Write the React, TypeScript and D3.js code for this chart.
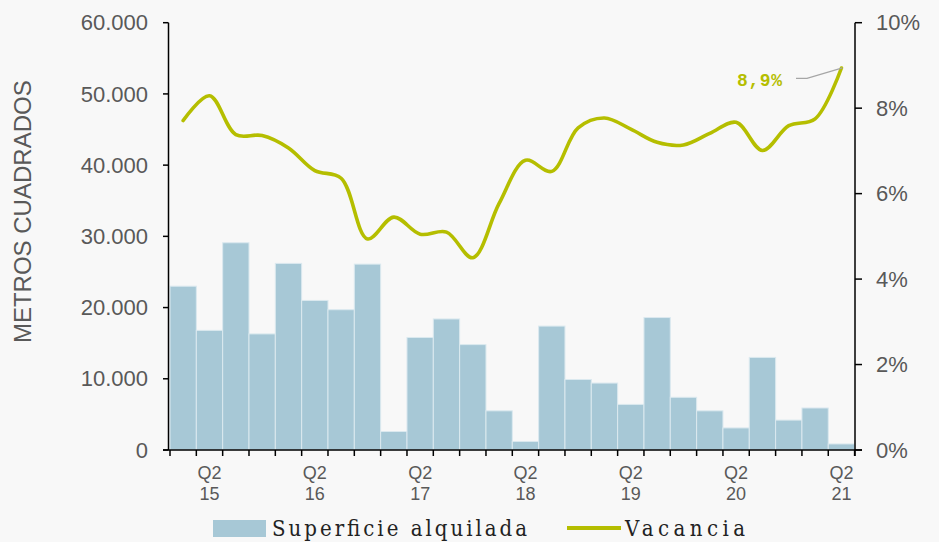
import React from "react";
import * as d3 from "d3";

const categories = [
  "Q1 15","Q2 15","Q3 15","Q4 15",
  "Q1 16","Q2 16","Q3 16","Q4 16",
  "Q1 17","Q2 17","Q3 17","Q4 17",
  "Q1 18","Q2 18","Q3 18","Q4 18",
  "Q1 19","Q2 19","Q3 19","Q4 19",
  "Q1 20","Q2 20","Q3 20","Q4 20",
  "Q1 21","Q2 21",
];
const superficie = [
  23000, 16800, 29100, 16300,
  26200, 21000, 19700, 26100,
  2600, 15800, 18400, 14800,
  5500, 1200, 17400, 9900,
  9400, 6400, 18600, 7400,
  5500, 3100, 13000, 4200,
  5900, 850,
];
const vacancia = [
  7.71, 8.29, 7.38, 7.36,
  7.07, 6.54, 6.36, 4.94,
  5.45, 5.05, 5.10, 4.50,
  5.77, 6.78, 6.52, 7.54,
  7.77, 7.51, 7.20, 7.14,
  7.41, 7.67, 7.01, 7.59,
  7.75, 8.94,
];
const leftTicks = [0, 10000, 20000, 30000, 40000, 50000, 60000];
const rightTicks = [0, 2, 4, 6, 8, 10];
const lastLabel = "8,9%";

const W = 939;
const H = 542;
const BG = "#f8f8f8";
const BAR = "#a7c8d6";
const LINE = "#b5be00";
const TXT = "#595959";
const SANS = "'Liberation Sans', Arial, sans-serif";
const MONO = "'Liberation Mono', 'DejaVu Sans Mono', monospace";
const LEG = "'DejaVu Serif Condensed', 'Liberation Serif', serif";

export default function App() {
  const x = d3.scaleBand<string>().domain(categories).range([170, 854.6]).paddingInner(0).paddingOuter(0);
  const yL = d3.scaleLinear().domain([0, 60000]).range([450, 22.7]);
  const yR = d3.scaleLinear().domain([0, 10]).range([450, 22.7]);
  const bw = x.bandwidth();
  const cx = (c: string) => (x(c) as number) + bw / 2;
  const fmt = (v: number) => d3.format(",")(v).replace(/,/g, ".");

  const line = d3
    .line<number>()
    .x((_, i) => cx(categories[i]))
    .y((d) => yR(d))
    .curve(d3.curveCatmullRom.alpha(0.5));

  const lastX = cx(categories[categories.length - 1]);
  const lastY = yR(vacancia[vacancia.length - 1]);
  const boundaries = categories.map((c) => x(c) as number).concat([x.range()[1]]);

  return (
    <svg
      width={W}
      height={H}
      style={{ position: "absolute", left: 0, top: 0, background: BG }}
    >
      <rect x={0} y={0} width={W} height={H} fill={BG} />
      {categories.map((c, i) => (
        <rect
          key={c}
          x={x(c)}
          y={yL(superficie[i])}
          width={bw}
          height={yL(0) - yL(superficie[i])}
          fill={BAR}
          stroke="#dbe9ef"
          strokeWidth={1}
        />
      ))}
      <path d={line(vacancia) || ""} fill="none" stroke={LINE} strokeWidth={3.6} strokeLinejoin="round" strokeLinecap="round" />
      <polyline
        points={`${796},${78.3} ${807},${78.3} ${lastX + 1},${lastY}`}
        fill="none"
        stroke="#a6a6a6"
        strokeWidth={1.3}
      />
      <text x={737} y={86} fontFamily={MONO} fontWeight="bold" fontSize={18} fill={LINE} textLength={45} lengthAdjust="spacing">
        {lastLabel}
      </text>

      <line x1={168.5} x2={168.5} y1={yL(60000)} y2={yL(0)} stroke="#000" strokeWidth={1.5} />
      {leftTicks.map((t) => (
        <g key={t}>
          <line x1={163} x2={168.5} y1={yL(t)} y2={yL(t)} stroke="#000" strokeWidth={1.5} />
          <text x={148} y={yL(t)} dy="0.35em" textAnchor="end" fontFamily={SANS} fontSize={22} fill={TXT}>
            {fmt(t)}
          </text>
        </g>
      ))}
      <text
        transform={`translate(31,211.7) rotate(-90)`}
        textAnchor="middle"
        fontFamily={SANS}
        fontSize={24}
        fill={TXT}
      >
        METROS CUADRADOS
      </text>

      <line x1={855} x2={855} y1={yR(10)} y2={yR(0) + 6} stroke="#000" strokeWidth={1.5} />
      {rightTicks.map((t) => (
        <g key={t}>
          <line x1={855} x2={862} y1={yR(t)} y2={yR(t)} stroke="#000" strokeWidth={1.5} />
          <text x={876} y={yR(t)} dy="0.35em" textAnchor="start" fontFamily={SANS} fontSize={22} fill={TXT}>
            {t}%
          </text>
        </g>
      ))}

      <line x1={163} x2={862} y1={450} y2={450} stroke="#000" strokeWidth={1.5} />
      {boundaries.map((b, i) => (
        <line key={i} x1={b} x2={b} y1={450} y2={456} stroke="#000" strokeWidth={1.5} />
      ))}
      {categories.map((c) =>
        c.startsWith("Q2") ? (
          <g key={c}>
            <text x={cx(c)} y={479} textAnchor="middle" fontFamily={SANS} fontSize={18} fill={TXT}>
              {c.split(" ")[0]}
            </text>
            <text x={cx(c)} y={500} textAnchor="middle" fontFamily={SANS} fontSize={18} fill={TXT}>
              {c.split(" ")[1]}
            </text>
          </g>
        ) : null
      )}

      <rect x={213} y={520} width={53} height={17} fill={BAR} />
      <text x={272} y={536} fontFamily={LEG} fontSize={22} fill="#222" textLength={255} lengthAdjust="spacing">
        Superficie alquilada
      </text>
      <line x1={567} x2={621} y1={528} y2={528} stroke={LINE} strokeWidth={4} />
      <text x={625} y={536} fontFamily={LEG} fontSize={22} fill="#222" textLength={120} lengthAdjust="spacing">
        Vacancia
      </text>
    </svg>
  );
}
